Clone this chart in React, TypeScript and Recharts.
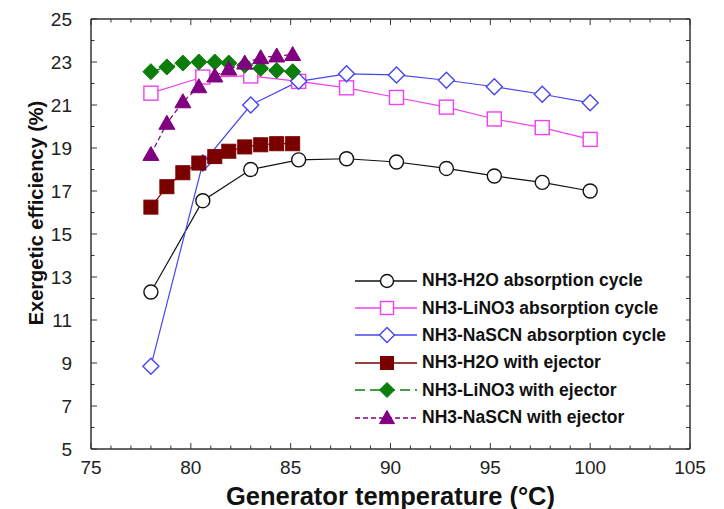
import { Legend, Line, LineChart, XAxis, YAxis } from "recharts";

// generator temperatures (°C)
const absTemps = [78, 80.6, 83, 85.4, 87.8, 90.3, 92.8, 95.2, 97.6, 100];
const ejTemps = [78, 78.8, 79.6, 80.4, 81.2, 81.9, 82.7, 83.5, 84.3, 85.1];

// exergetic efficiency (%)
const h2oAbs = [12.3, 16.55, 18.0, 18.45, 18.5, 18.35, 18.05, 17.7, 17.4, 17.0];
const lino3Abs = [21.55, 22.3, 22.35, 22.1, 21.8, 21.35, 20.9, 20.35, 19.95, 19.4];
const nascnAbs = [8.85, 18.3, 21.0, 22.1, 22.45, 22.4, 22.15, 21.85, 21.5, 21.1];
const h2oEj = [16.25, 17.2, 17.85, 18.3, 18.6, 18.85, 19.05, 19.15, 19.2, 19.2];
const lino3Ej = [22.55, 22.77, 22.95, 23.0, 23.0, 22.95, 22.85, 22.7, 22.6, 22.55];
const nascnEj = [18.7, 20.15, 21.15, 21.85, 22.35, 22.67, 22.95, 23.2, 23.28, 23.35];

const xLabels = [75, 80, 85, 90, 95, 100, 105];
const yLabels = [5, 7, 9, 11, 13, 15, 17, 19, 21, 23, 25];

const xTicks = Array.from({ length: 31 }, (_, i) => 75 + i);
const yTicks = Array.from({ length: 21 }, (_, i) => 5 + i);

type Shape = "circle" | "square" | "diamond" | "triangle";

const series: Array<{
  name: string;
  temps: number[];
  values: number[];
  color: string;
  shape: Shape;
  filled: boolean;
  dash?: string;
  size: number;
}> = [
  { name: "NH3-H2O absorption cycle", temps: absTemps, values: h2oAbs, color: "#111111", shape: "circle", filled: false, size: 15 },
  { name: "NH3-LiNO3 absorption cycle", temps: absTemps, values: lino3Abs, color: "#f040f0", shape: "square", filled: false, size: 14 },
  { name: "NH3-NaSCN absorption cycle", temps: absTemps, values: nascnAbs, color: "#4646f0", shape: "diamond", filled: false, size: 16 },
  { name: "NH3-H2O with ejector", temps: ejTemps, values: h2oEj, color: "#7a0000", shape: "square", filled: true, size: 14 },
  { name: "NH3-LiNO3 with ejector", temps: ejTemps, values: lino3Ej, color: "#0a7d0a", shape: "diamond", filled: true, dash: "10 5", size: 16 },
  { name: "NH3-NaSCN with ejector", temps: ejTemps, values: nascnEj, color: "#800080", shape: "triangle", filled: true, dash: "5 3", size: 16 },
];

const AXIS = "#333333";
const FONT = "'Liberation Sans', Arial, sans-serif";

function Marker({ cx, cy, shape, size, color, filled }: any) {
  const r = size / 2;
  const common = {
    fill: filled ? color : "#ffffff",
    stroke: color,
    strokeWidth: filled ? 1 : 1.4,
  };
  if (shape === "circle") return <circle cx={cx} cy={cy} r={r - 0.5} {...common} />;
  if (shape === "square") return <rect x={cx - r} y={cy - r} width={size} height={size} {...common} />;
  if (shape === "diamond")
    return <polygon points={`${cx},${cy - r} ${cx + r},${cy} ${cx},${cy + r} ${cx - r},${cy}`} {...common} />;
  return (
    <polygon
      points={`${cx},${cy - r} ${cx + r},${cy + r * 0.75} ${cx - r},${cy + r * 0.75}`}
      {...common}
    />
  );
}

const tickLen = (major: boolean) => (major ? 6 : 3.5);

function BottomTick({ x, y, payload }: any) {
  const major = xLabels.includes(payload.value);
  return (
    <g>
      <line x1={x} y1={y} x2={x} y2={y - tickLen(major)} stroke={AXIS} />
      {major && (
        <text x={x} y={y + 25} textAnchor="middle" fontSize={19} fill="#222" fontFamily={FONT}>
          {payload.value}
        </text>
      )}
    </g>
  );
}

function TopTick({ x, y, payload }: any) {
  const major = xLabels.includes(payload.value);
  return <line x1={x} y1={y} x2={x} y2={y + tickLen(major)} stroke={AXIS} />;
}

function LeftTick({ x, y, payload }: any) {
  const major = yLabels.includes(payload.value);
  return (
    <g>
      <line x1={x} y1={y} x2={x + tickLen(major)} y2={y} stroke={AXIS} />
      {major && (
        <text x={x - 19} y={y + 7} textAnchor="end" fontSize={19} fill="#222" fontFamily={FONT}>
          {payload.value}
        </text>
      )}
    </g>
  );
}

function RightTick({ x, y }: any) {
  return <line x1={x} y1={y} x2={x - 4} y2={y} stroke={AXIS} />;
}

function XTitle({ viewBox }: any) {
  return (
    <text
      x={viewBox.x + viewBox.width / 2}
      y={viewBox.y + 56}
      textAnchor="middle"
      fontSize={25.5}
      fontWeight="bold"
      fill="#111"
      fontFamily={FONT}
    >
      Generator temperature (°C)
    </text>
  );
}

function YTitle() {
  return (
    <text
      x={36}
      y={213}
      transform="rotate(-90, 36, 213)"
      textAnchor="middle"
      dominantBaseline="central"
      fontSize={20}
      fontWeight="bold"
      fill="#111"
      fontFamily={FONT}
    >
      Exergetic efficiency (%)
    </text>
  );
}

function LegendBox() {
  return (
    <div style={{ fontFamily: FONT }}>
      {series.map((s) => (
        <div key={s.name} style={{ display: "flex", alignItems: "center", height: 27.4 }}>
          <svg width={66} height={20} style={{ flex: "none" }}>
            <line x1={1} y1={10} x2={63} y2={10} stroke={s.color} strokeWidth={1.3} strokeDasharray={s.dash} />
            <Marker cx={33} cy={10} shape={s.shape} size={s.size - 1} color={s.color} filled={s.filled} />
          </svg>
          <span style={{ fontSize: 17.5, fontWeight: "bold", color: "#111", marginLeft: 2, whiteSpace: "nowrap" }}>
            {s.name}
          </span>
        </div>
      ))}
    </div>
  );
}

export default function App() {
  const frame = series[0];
  return (
    <div style={{ position: "absolute", left: 0, top: 0, width: 724, height: 509, background: "#fff" }}>
      <LineChart width={724} height={509} margin={{ top: 18, right: 33, bottom: 0, left: 0 }}>
        <XAxis
          xAxisId="b"
          dataKey="x"
          type="number"
          domain={[75, 105]}
          allowDataOverflow
          ticks={xTicks}
          interval={0}
          height={60}
          tickSize={0}
          tickMargin={0}
          tickLine={false}
          axisLine={{ stroke: AXIS, strokeWidth: 1.5 }}
          tick={<BottomTick />}
          label={<XTitle />}
        />
        <XAxis
          xAxisId="t"
          orientation="top"
          dataKey="x"
          type="number"
          domain={[75, 105]}
          allowDataOverflow
          ticks={xTicks}
          interval={0}
          height={1}
          tickSize={0}
          tickMargin={0}
          tickLine={false}
          axisLine={{ stroke: AXIS, strokeWidth: 1.5 }}
          tick={<TopTick />}
        />
        <YAxis
          yAxisId="l"
          type="number"
          domain={[5, 25]}
          allowDataOverflow
          ticks={yTicks}
          interval={0}
          width={91}
          tickSize={0}
          tickMargin={0}
          tickLine={false}
          axisLine={{ stroke: AXIS, strokeWidth: 1.5 }}
          tick={<LeftTick />}
          label={<YTitle />}
        />
        <YAxis
          yAxisId="r"
          orientation="right"
          type="number"
          domain={[5, 25]}
          allowDataOverflow
          ticks={yTicks}
          interval={0}
          width={1}
          tickSize={0}
          tickMargin={0}
          tickLine={false}
          axisLine={{ stroke: AXIS, strokeWidth: 1.5 }}
          tick={<RightTick />}
        />
        <Legend
          layout="vertical"
          align="center"
          verticalAlign="middle"
          content={<LegendBox />}
          wrapperStyle={{ left: 354, top: 267, width: 330 }}
        />
        {/* invisible carrier so the mirrored top/right frame axes get a scale */}
        <Line
          xAxisId="t"
          yAxisId="r"
          data={frame.temps.map((t, i) => ({ x: t, y: frame.values[i] }))}
          dataKey="y"
          stroke="none"
          dot={false}
          activeDot={false}
          legendType="none"
          isAnimationActive={false}
        />
        {series.map((s) => (
          <Line
            key={s.name}
            name={s.name}
            xAxisId="b"
            yAxisId="l"
            data={s.temps.map((t, i) => ({ x: t, y: s.values[i] }))}
            dataKey="y"
            stroke={s.color}
            strokeWidth={1.2}
            strokeDasharray={s.dash}
            isAnimationActive={false}
            activeDot={false}
            dot={(p: any) => (
              <Marker
                key={`${s.name}-${p.index}`}
                cx={p.cx}
                cy={p.cy}
                shape={s.shape}
                size={s.size}
                color={s.color}
                filled={s.filled}
              />
            )}
          />
        ))}
      </LineChart>
    </div>
  );
}
